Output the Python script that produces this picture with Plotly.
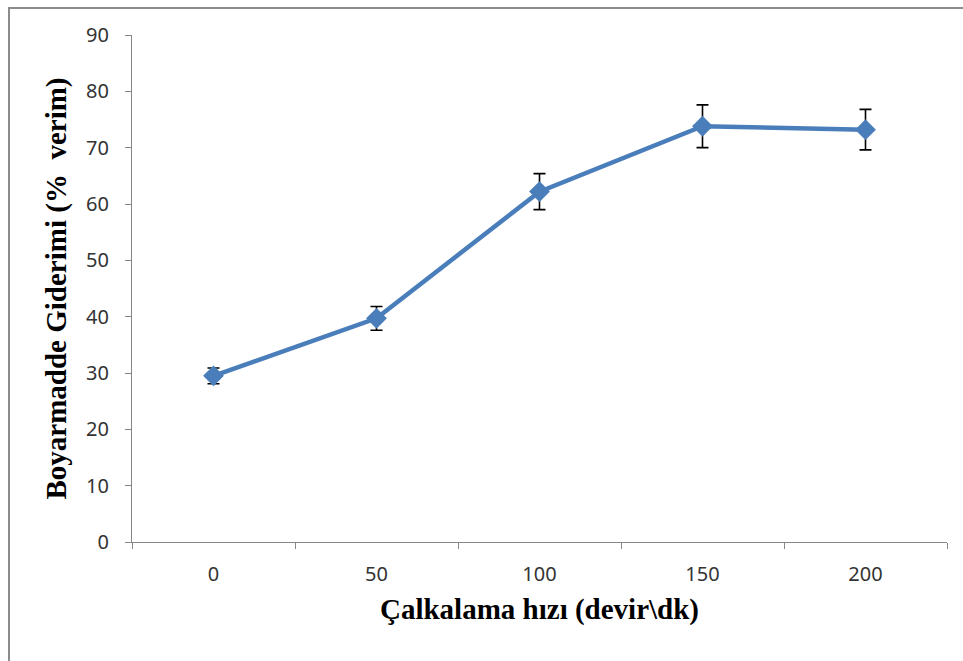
import plotly.graph_objects as go

speeds = [0, 50, 100, 150, 200]
tick_labels = ["0", "50", "100", "150", "200"]
removal = [29.5, 39.7, 62.2, 73.8, 73.2]
err = [1.4, 2.1, 3.2, 3.8, 3.6]

L, R, T, B = 132, 16, 35, 119
W, H = 963, 661
pw = W - L - R
ph = H - T - B

fig = go.Figure()
fig.add_trace(go.Scatter(
    x=speeds, y=removal, mode="lines+markers",
    line=dict(color="#4A7EBB", width=4.5),
    marker=dict(symbol="diamond", size=16, color="#4A7EBB"),
    error_y=dict(type="data", array=err, visible=True, color="black",
                 thickness=1.6, width=6),
    showlegend=False,
))

axis_col = "#868686"
tickfont = dict(family="Noto Sans, Liberation Sans", size=20, color="#333")
titlefont = dict(family="Liberation Serif", size=29, color="black")
fig.update_layout(
    width=W, height=H,
    margin=dict(l=L, r=R, t=T, b=B),
    paper_bgcolor="white", plot_bgcolor="white",
    xaxis=dict(
        range=[-25, 225], tickvals=speeds, ticktext=tick_labels,
        ticks="", showgrid=False, zeroline=False,
        showline=True, linecolor=axis_col, linewidth=1.3,
        tickfont=tickfont, ticklabelstandoff=14,
        minor=dict(tick0=-25, dtick=50, ticks="outside", ticklen=6,
                   tickcolor=axis_col, tickwidth=1.3, showgrid=False),
        title=dict(text="<b>Çalkalama hızı (devir\\dk)</b>",
                   font=titlefont, standoff=12),
    ),
    yaxis=dict(
        range=[0, 90], dtick=10, tick0=0,
        ticks="outside", ticklen=6, tickcolor=axis_col, tickwidth=1.3,
        showgrid=False, zeroline=False,
        showline=True, linecolor=axis_col, linewidth=1.3,
        tickfont=tickfont, ticklabelstandoff=12,
        title=dict(text="<b>Boyarmadde Giderimi (%  verim)</b>",
                   font=titlefont, standoff=10),
    ),
    shapes=[dict(
        type="rect", xref="paper", yref="paper",
        x0=(9 - L) / pw, x1=(W + 10 - L) / pw,
        y0=-(H + 10 - T - ph) / ph, y1=(ph + T - 8) / ph,
        line=dict(color="#8C8C8C", width=2), fillcolor="rgba(0,0,0,0)",
        layer="below",
    )],
)

fig.write_html("out.html")
